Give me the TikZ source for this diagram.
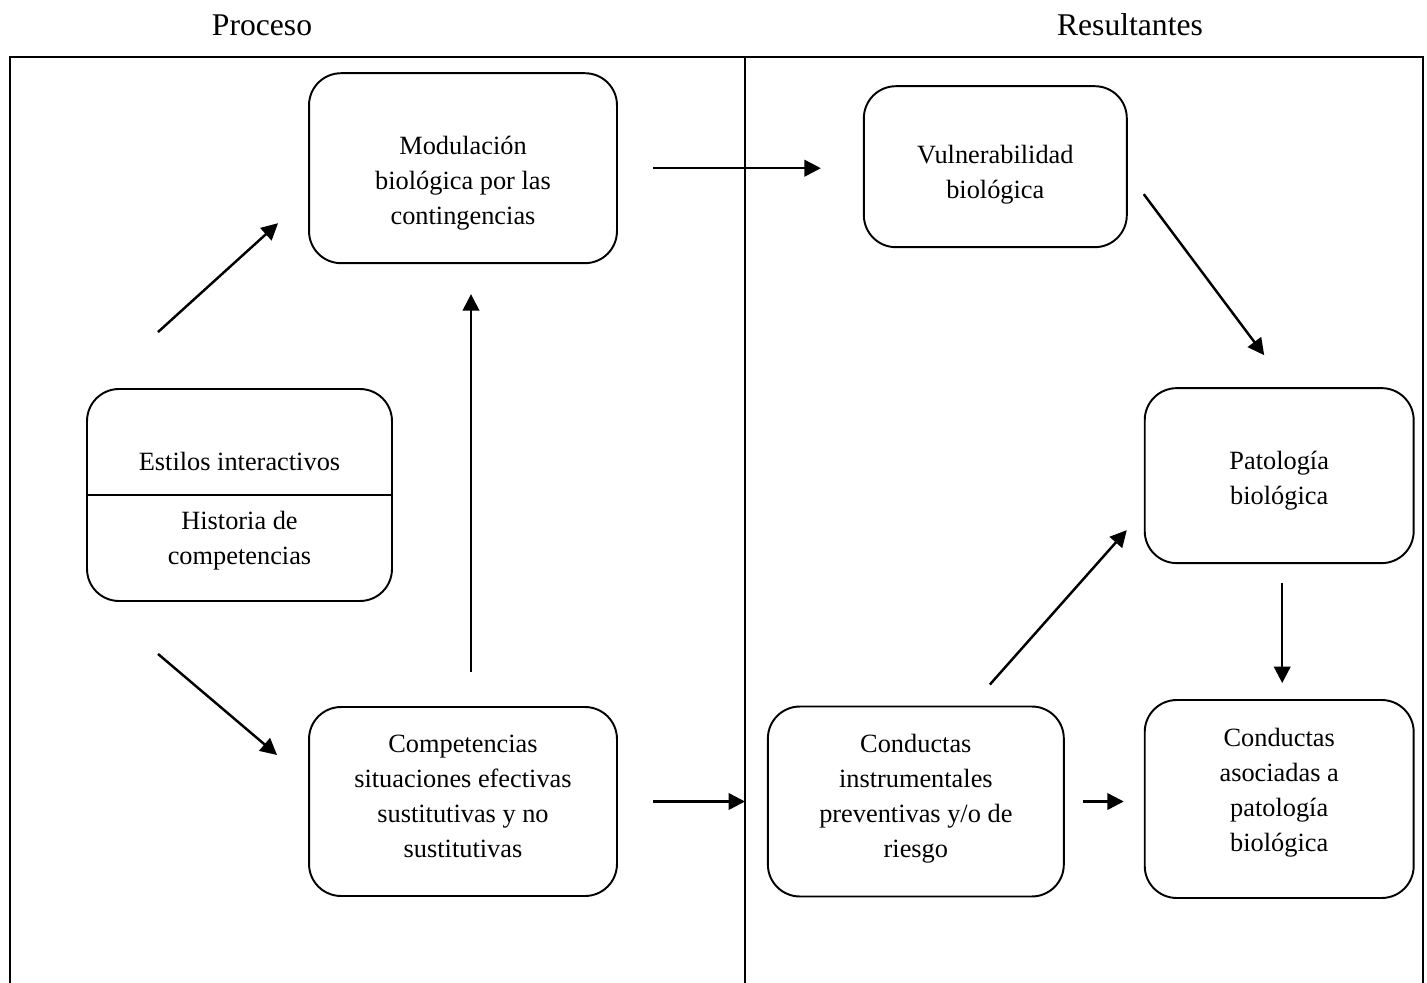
\documentclass[tikz,border=0pt]{standalone}
\usepackage{fontspec}
\setmainfont{Liberation Serif}
\usetikzlibrary{positioning,calc,arrows.meta}
\tikzset{box node/.style={draw, rounded corners=0.64cm, line width=1.1pt, inner sep=0pt},
  text node/.style={align=center, inner sep=0pt, font=\fontsize{15}{19.9}\selectfont},
  title node/.style={anchor=base, font=\fontsize{18}{22}\selectfont},
  arrow line/.style={line width=1.4pt, -{Triangle[length=0.33cm,width=0.33cm]}},}

\begin{document}
\begin{tikzpicture}[x=0.02cm, y=-0.02cm]
        \useasboundingbox (0,0) rectangle (1427,983);
        % Frame
        \coordinate (divtop) at (745,57);
        \coordinate (divbottom) at (745,983);
        \draw[line width=1.2pt] (10,983) -- (10,57) -- (1423,57) -- (1423,983);
        \draw[line width=1.1pt] (divtop) -- (divbottom);
        \node[title node] (proceso) at (262,36) {Proceso};
        \node[title node] (resultantes) at (1130,36) {Resultantes};
        % Nodes
        \node[box node, minimum width=6.1cm, minimum height=4.24cm] (estilos) at (239.5,495) {};
        \draw[line width=1.1pt] (estilos.west) -- (estilos.east);
        \node[box node, minimum width=6.16cm, minimum height=3.78cm] (competencias) at (463,801.5) {};
        \node[box node, minimum width=6.16cm, minimum height=3.8cm] [above = 8.84cm of competencias] (modulacion) {};
        \node[box node, minimum width=5.26cm, minimum height=3.22cm] [right = 4.9cm of modulacion, yshift=0.03cm] (vulnerabilidad) {};
        \node[box node, minimum width=5.92cm, minimum height=3.8cm] [right = 2.98cm of competencias] (instrumentales) {};
        \node[box node, minimum width=5.38cm, minimum height=3.96cm] [right = 1.58cm of instrumentales, yshift=0.05cm] (asociadas) {};
        \node[box node, minimum width=5.38cm, minimum height=3.5cm] [above = 2.7cm of asociadas] (patologia) {};
        % Texts
        \node[text node] (interactivos) at ($(estilos.center)+(0,-34)$) {Estilos interactivos};
        \node[text node] (historia) at ($(estilos.center)+(0,46)$) {Historia de\\competencias};
        \node[text node] (modulaciontxt) at ($(modulacion.center)+(0,15)$) {Modulación\\biológica por las\\contingencias};
        \node[text node] (competenciastxt) at ($(competencias.center)+(0,-5)$) {Competencias\\situaciones efectivas\\sustitutivas y no\\sustitutivas};
        \node[text node] (vulnerabilidadtxt) at ($(vulnerabilidad.center)+(0,8)$) {Vulnerabilidad\\biológica};
        \node[text node] (patologiatxt) at ($(patologia.center)+(0,5)$) {Patología\\biológica};
        \node[text node] (instrumentalestxt) at ($(instrumentales.center)+(0,-3)$) {Conductas\\instrumentales\\preventivas y/o de\\riesgo};
        \node[text node] (asociadastxt) at ($(asociadas.center)+(0,-6)$) {Conductas\\asociadas a\\patología\\biológica};
        % Paths
        \draw[arrow line] ($(estilos.north)+(-81.5,-56)$) -- ($(modulacion.west)+(-30,55)$);
        \draw[arrow line] ($(estilos.south)+(-81.5,52)$) -- ($(competencias.west)+(-31,-46.5)$);
        \draw[arrow line] ($(competencias.north)+(8,-34)$) -- ($(modulacion.south)+(8,30)$);
        \draw[arrow line] ($(modulacion.east)+(35,0)$) -- ($(modulacion.east -| vulnerabilidad.west)+(-42,0)$);
        \draw[arrow line] ($(competencias.east)+(35,0)$) -- (competencias.east -| divtop);
        \draw[arrow line] ($(vulnerabilidad.east)+(16,27.5)$) -- ($(patologia.north)+(-15,-32)$);
        \draw[arrow line] ($(instrumentales.north)+(74,-21)$) -- ($(patologia.west)+(-17,54.5)$);
        \draw[arrow line] ($(patologia.south)+(3,19)$) -- ($(asociadas.north)+(3,-16)$);
        \draw[arrow line] ($(instrumentales.east)+(18,0)$) -- ($(instrumentales.east -| asociadas.west)+(-20,0)$);
    \end{tikzpicture}
\end{document}
